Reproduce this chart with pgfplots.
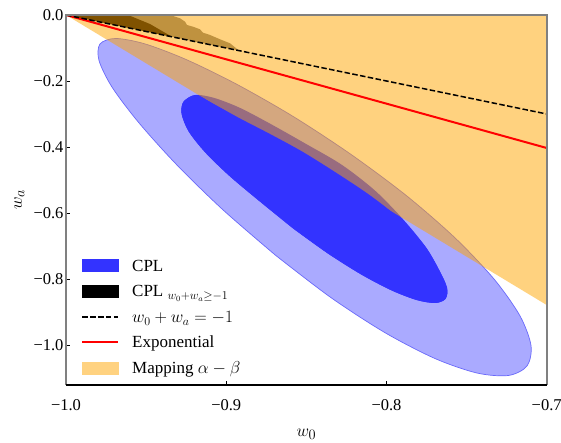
\documentclass[border=0pt]{standalone}
\usepackage[no-math]{fontspec}
\setmainfont{Liberation Serif}
\usepackage{pgfplots}
\pgfplotsset{compat=1.18}

\definecolor{cplouter}{RGB}{170,170,255}
\definecolor{cpledge}{RGB}{105,105,250}
\definecolor{cplinner}{RGB}{51,51,255}
\definecolor{mapor}{RGB}{255,165,0}
\definecolor{mapleg}{RGB}{255,210,128}
\definecolor{spine}{RGB}{128,128,128}
\definecolor{cplgray}{RGB}{128,128,128}

\begin{document}
\begin{tikzpicture}
\begin{axis}[
    scale only axis,
    width=480.7pt, height=370pt,
    xmin=-1, xmax=-0.7, ymin=-1.1212, ymax=0,
    xtick={-1,-0.9,-0.8,-0.7},
    xticklabels={\textrm{−1.0},\textrm{−0.9},\textrm{−0.8},\textrm{−0.7}},
    ytick={-1,-0.8,-0.6,-0.4,-0.2,0},
    yticklabels={\textrm{−1.0},\textrm{−0.8},\textrm{−0.6},\textrm{−0.4},\textrm{−0.2},\textrm{0.0}},
    tick pos=left, tick align=inside,
    major tick length=3.5pt,
    major tick style={black, line width=0.8pt},
    ticklabel style={font=\fontsize{16.5}{18}\selectfont},
    xticklabel style={yshift=-11pt},
    yticklabel style={xshift=1pt},
    axis line style={draw=none},
    xlabel={$w_0$}, ylabel={$w_a$},
    label style={font=\fontsize{19}{21}\selectfont},
    xlabel style={at={(axis description cs:0.5,-0.138)}, anchor=base},
    ylabel style={at={(axis description cs:-0.092,0.5)}, anchor=base},
    legend style={draw=none, fill=none, at={(0.0312,0.029)}, anchor=south west,
        inner xsep=0pt, inner ysep=0pt, row sep=13.4pt, column sep=13pt,
        nodes={inner sep=0pt, text height=11.2pt, text depth=0pt},
        font=\fontsize{17}{19}\selectfont},
    legend cell align=left,
    after end axis/.code={
        \draw[spine, line width=1.8pt] (rel axis cs:0,0) -- (rel axis cs:0,1) -- (rel axis cs:1,1) -- (rel axis cs:1,0);
        \draw[black, line width=1.2pt] (rel axis cs:0,0) -- (rel axis cs:1,0);
    },
]

% CPL 2 sigma (outer contour)
\addplot[forget plot, smooth, fill=cplouter, draw=cpledge, line width=0.7pt] coordinates {
    (-0.8692,-0.7282) (-0.8349,-0.8555) (-0.8011,-0.9621) (-0.7699,-1.0406)
    (-0.7436,-1.0848) (-0.7239,-1.0924) (-0.7123,-1.0636) (-0.7098,-1.0015)
    (-0.7167,-0.9115) (-0.7327,-0.8012) (-0.7568,-0.6773) (-0.7872,-0.5488)
    (-0.8219,-0.4233) (-0.8580,-0.3082) (-0.8933,-0.2103) (-0.9249,-0.1352)
    (-0.9507,-0.0876) (-0.9690,-0.0712) (-0.9788,-0.0879) (-0.9794,-0.1379)
    (-0.9712,-0.2191) (-0.9546,-0.3261) (-0.9310,-0.4533) (-0.9020,-0.5906)
    (-0.8692,-0.7282)
};

% CPL 1 sigma, under the mapping band
\addplot[forget plot, smooth, fill=cplinner, draw=none] coordinates {
    (-0.8583,-0.6467) (-0.8368,-0.7218) (-0.8158,-0.7861) (-0.7968,-0.8345)
    (-0.7810,-0.8639) (-0.7695,-0.8727) (-0.7631,-0.8600) (-0.7622,-0.8267)
    (-0.7669,-0.7748) (-0.7758,-0.7012) (-0.7896,-0.6194) (-0.8070,-0.5327)
    (-0.8279,-0.4539) (-0.8510,-0.3885) (-0.8727,-0.3291) (-0.8918,-0.2806)
    (-0.9076,-0.2512) (-0.9191,-0.2424) (-0.9266,-0.2624) (-0.9279,-0.2982)
    (-0.9235,-0.3524) (-0.9131,-0.4164) (-0.8978,-0.4885) (-0.8789,-0.5655)
    (-0.8583,-0.6467)
};

% CPL with w0+wa >= -1: 2 sigma and 1 sigma
\addplot[forget plot, fill=cplgray, draw=none] coordinates {
    (-1,0.01) (-0.9351,0.01) (-0.9351,0) (-0.9288,-0.0100) (-0.9257,-0.0203)
    (-0.9245,-0.0303) (-0.9207,-0.0355) (-0.9164,-0.0433) (-0.9145,-0.0536)
    (-0.9101,-0.0606) (-0.9039,-0.0736) (-0.8976,-0.0858) (-0.8920,-0.1080)
    (-1,0)
};
\addplot[forget plot, fill=black, draw=none] coordinates {
    (-1,0.01) (-0.9613,0.01) (-0.9613,0) (-0.9476,-0.0273) (-0.9338,-0.0662) (-1,0)
};

% Mapping alpha-beta
\addplot[forget plot, fill=mapor, fill opacity=0.5, draw=none] coordinates {
    (-1,0) (-0.7,-0.8788) (-0.7,0.01) (-1,0.01)
};

% CPL 1 sigma, on top
\addplot[forget plot, smooth, fill=cplinner, draw=none] coordinates {
    (-0.8583,-0.6467) (-0.8368,-0.7218) (-0.8158,-0.7861) (-0.7968,-0.8345)
    (-0.7810,-0.8639) (-0.7695,-0.8727) (-0.7631,-0.8600) (-0.7622,-0.8267)
    (-0.7669,-0.7748) (-0.7758,-0.7012) (-0.7916,-0.6182) (-0.8097,-0.5485)
    (-0.8302,-0.4818) (-0.8521,-0.4152) (-0.8727,-0.3606) (-0.8914,-0.3136)
    (-0.9089,-0.2667) (-0.9191,-0.2424) (-0.9266,-0.2624) (-0.9279,-0.2982)
    (-0.9235,-0.3524) (-0.9131,-0.4164) (-0.8978,-0.4885) (-0.8789,-0.5655)
    (-0.8583,-0.6467)
};

% lines
\addplot[forget plot, red, line width=2pt] coordinates {(-1,0) (-0.7,-0.403)};
\addplot[forget plot, black, line width=1.5pt, dash pattern=on 5.5pt off 2.4pt] coordinates {(-1,0) (-0.7,-0.3)};

% legend
\addlegendimage{legend image code/.code={\fill[cplinner] (0pt,-6pt) rectangle (36pt,6pt);}}
\addlegendentry{CPL}
\addlegendimage{legend image code/.code={\fill[black] (0pt,-6pt) rectangle (36pt,6pt);}}
\addlegendentry{CPL $_{w_0+w_a\geq -1}$}
\addlegendimage{legend image code/.code={\path[draw=none, fill=none] (0pt,-6pt) rectangle (36pt,6pt);
    \draw[black, line width=1.5pt, dash pattern=on 5.5pt off 2.4pt] (0pt,0pt) -- (36pt,0pt);}}
\addlegendentry{$w_0+w_a=-1$}
\addlegendimage{legend image code/.code={\path[draw=none, fill=none] (0pt,-6pt) rectangle (36pt,6pt);
    \draw[red, line width=2pt] (0pt,0pt) -- (36pt,0pt);}}
\addlegendentry{Exponential}
\addlegendimage{legend image code/.code={\fill[mapleg] (0pt,-6pt) rectangle (36pt,6pt);}}
\addlegendentry{Mapping $\alpha-\beta$}
\end{axis}
\pgfresetboundingbox
\path[use as bounding box] (current axis.south west) ++(-66pt,-58pt) rectangle ([xshift=14.3pt,yshift=15pt]current axis.north east);
\end{tikzpicture}
\end{document}
